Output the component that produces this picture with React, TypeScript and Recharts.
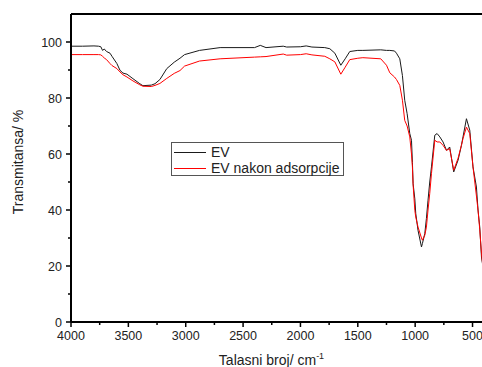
import React from "react";
import { LineChart, Line, XAxis, YAxis, ReferenceLine, Legend, Label } from "recharts";

const wavenumbers = [
  4000, 3900, 3800, 3760, 3740, 3725, 3710, 3690, 3660, 3643, 3600, 3573, 3547, 3512, 3460, 3400,
  3373, 3300, 3268, 3225, 3165, 3100, 3050, 3010, 2880, 2700, 2400, 2350, 2300, 2150, 2120, 2000,
  1950, 1900, 1788, 1744, 1700, 1648, 1610, 1570, 1500, 1456, 1300, 1250, 1221, 1180, 1163, 1134,
  1111, 1091, 1070, 1047, 1032, 1024, 1018, 1003, 995, 975, 945, 937, 916, 902, 888, 873, 858, 829,
  809, 785, 757, 727, 699, 664, 626, 597, 583, 553, 524, 496, 466, 452, 437, 422, 410,
];
const evValues = [
  98.5, 98.5, 98.6, 98.5, 98.3, 97.0, 97.5, 96.6, 96.0, 94.9, 92.3, 89.9, 88.9, 88.5, 86.9, 85.1,
  84.4, 84.6, 85.1, 86.6, 90.5, 92.8, 94.2, 95.5, 97.0, 98.0, 98.0, 98.8, 98.0, 98.5, 98.2, 98.3,
  98.6, 98.2, 98.0, 97.6, 96.0, 91.7, 94.0, 96.6, 97.0, 97.0, 97.2, 97.0, 97.0, 96.8, 96.0, 94.0,
  88.0, 79.2, 74.4, 67.3, 64.9, 57.0, 49.4, 44.0, 38.8, 32.7, 26.8, 28.0, 31.6, 37.0, 43.5, 50.0,
  55.4, 66.7, 67.3, 66.1, 64.3, 61.3, 62.5, 53.6, 57.8, 63.0, 66.1, 72.6, 68.5, 55.4, 48.2, 40.0,
  33.9, 23.2, 20.0,
];
const evAdsValues = [
  95.5, 95.5, 95.5, 95.5, 95.4, 94.9, 94.3, 93.7, 92.3, 91.6, 90.5, 89.3, 88.3, 87.5, 86.1, 84.7,
  84.2, 84.1, 84.5, 85.2, 87.0, 88.8, 89.8, 91.4, 93.2, 94.0, 94.6, 94.7, 94.8, 95.7, 95.3, 95.5,
  95.8, 95.4, 94.9, 94.0, 92.9, 88.5, 91.0, 93.7, 94.2, 94.4, 94.0, 91.7, 89.0, 87.5, 86.6, 84.5,
  79.2, 72.0, 70.0, 66.1, 60.0, 55.4, 49.0, 39.9, 37.5, 33.9, 30.0, 29.2, 31.0, 33.9, 40.0, 45.9,
  53.0, 64.9, 64.3, 64.3, 63.1, 61.3, 61.9, 54.2, 58.5, 63.1, 65.5, 69.6, 67.3, 55.4, 45.0, 39.9,
  33.0, 24.5, 20.0,
];
const xTicks = [4000, 3750, 3500, 3250, 3000, 2750, 2500, 2250, 2000, 1750, 1500, 1250, 1000, 750, 500];
const yTicks = [0, 10, 20, 30, 40, 50, 60, 70, 80, 90, 100];
const seriesNames = ["EV", "EV nakon adsorpcije"];

const data = wavenumbers.map((wn, i) => ({ wn, ev: evValues[i], evAds: evAdsValues[i] }));

const FONT = "'Liberation Sans', Arial, sans-serif";
const TICK_SIZE = 5;
const X_MARGIN = 5;
const Y_MARGIN = 4;

const XTick = (props: any) => {
  const { x, y, payload } = props;
  const v = payload.value;
  const major = v % 500 === 0;
  const axisY = y - TICK_SIZE - X_MARGIN;
  return (
    <g>
      <line x1={x} x2={x} y1={axisY} y2={axisY + (major ? 5 : 3)} stroke="#000" strokeWidth={1.5} />
      {major && (
        <text x={x} y={axisY + 18} textAnchor="middle" fontSize={12.5} fontFamily={FONT} fill="#222">
          {v}
        </text>
      )}
    </g>
  );
};

const YTick = (props: any) => {
  const { x, y, payload } = props;
  const v = payload.value;
  const major = v % 20 === 0;
  const axisX = x + TICK_SIZE + Y_MARGIN;
  return (
    <g>
      <line x1={axisX - (major ? 5 : 3)} x2={axisX} y1={y} y2={y} stroke="#000" strokeWidth={1.5} />
      {major && (
        <text x={axisX - 9} y={y + 4.5} textAnchor="end" fontSize={12.5} fontFamily={FONT} fill="#222">
          {v}
        </text>
      )}
    </g>
  );
};

const XTitle = (props: any) => {
  const vb = props.viewBox || {};
  const cx = vb.x + vb.width / 2 - 6;
  return (
    <text x={cx} y={vb.y + 43} textAnchor="middle" fontSize={14} fontFamily={FONT} fill="#222">
      Talasni broj/ cm
      <tspan fontSize={9} dy={-6}>-1</tspan>
    </text>
  );
};

const YTitle = (props: any) => {
  const vb = props.viewBox || {};
  const cx = 18;
  const cy = vb.y + vb.height / 2 - 6;
  return (
    <text
      x={cx}
      y={cy}
      transform={`rotate(-90 ${cx} ${cy})`}
      textAnchor="middle"
      dominantBaseline="central"
      fontSize={14}
      fontFamily={FONT}
      fill="#222"
    >
      Transmitansa/ %
    </text>
  );
};

const LegendBox = (props: any) => {
  const items = props.payload || [];
  return (
    <div
      style={{
        border: "1px solid #555",
        background: "#fff",
        width: 173,
        height: 34,
        boxSizing: "border-box",
        padding: "1px 0 0 2px",
        fontFamily: FONT,
        fontSize: 14,
        color: "#222",
      }}
    >
      {items.map((it: any) => (
        <div key={it.value} style={{ display: "flex", alignItems: "center", height: 16 }}>
          <svg width={34} height={16} style={{ display: "block" }}>
            <line x1={0} x2={32} y1={8.5} y2={8.5} stroke={it.color} strokeWidth={1} />
          </svg>
          <span style={{ marginLeft: 3, lineHeight: "16px" }}>{it.value}</span>
        </div>
      ))}
    </div>
  );
};

export default function App() {
  return (
    <div style={{ position: "fixed", left: 0, top: 0, width: 482, height: 367, overflow: "hidden", background: "#fff" }}>
      <LineChart width={490} height={367} data={data} margin={{ top: 14, right: 6, bottom: 0, left: 0 }}>
        <XAxis
          dataKey="wn"
          type="number"
          domain={[400, 4000]}
          reversed
          ticks={xTicks}
          interval={0}
          height={45}
          tickSize={TICK_SIZE}
          tickMargin={X_MARGIN}
          tickLine={false}
          tick={<XTick />}
          axisLine={{ stroke: "#000", strokeWidth: 2 }}
          allowDataOverflow
        >
          <Label content={<XTitle />} />
        </XAxis>
        <YAxis
          type="number"
          domain={[0, 110]}
          ticks={yTicks}
          interval={0}
          width={71}
          tickSize={TICK_SIZE}
          tickMargin={Y_MARGIN}
          tickLine={false}
          tick={<YTick />}
          axisLine={{ stroke: "#000", strokeWidth: 2 }}
          allowDataOverflow
        >
          <Label content={<YTitle />} />
        </YAxis>
        <ReferenceLine y={110} stroke="#000" strokeWidth={2} />
        <ReferenceLine x={400} stroke="#000" strokeWidth={2} />
        <Line
          type="linear"
          dataKey="ev"
          name={seriesNames[0]}
          stroke="#1a1a1a"
          strokeWidth={1}
          dot={false}
          isAnimationActive={false}
        />
        <Line
          type="linear"
          dataKey="evAds"
          name={seriesNames[1]}
          stroke="#ff0000"
          strokeWidth={1}
          dot={false}
          isAnimationActive={false}
        />
        <Legend
          content={<LegendBox />}
          layout="vertical"
          verticalAlign="middle"
          align="center"
          wrapperStyle={{ position: "absolute", left: 171, top: 142, width: 173 }}
        />
      </LineChart>
    </div>
  );
}
